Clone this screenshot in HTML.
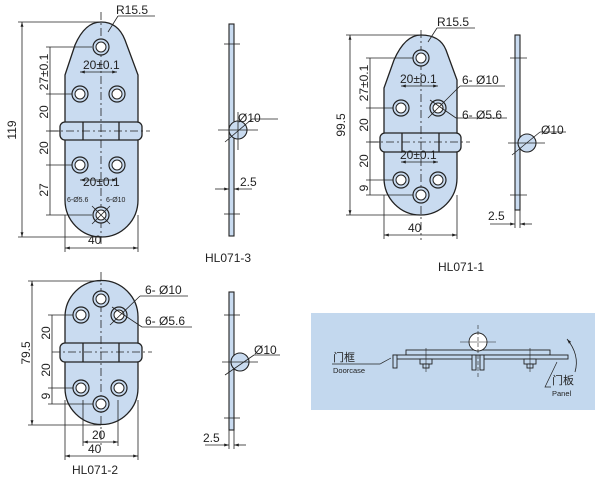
<!DOCTYPE html>
<html><head><meta charset="utf-8"><style>
html,body{margin:0;padding:0;background:#fff;}
svg{display:block;}
text{font-family:"Liberation Sans","Noto Sans CJK SC",sans-serif;fill:#222;}
</style></head><body>
<svg width="600" height="481" viewBox="0 0 600 481" xmlns="http://www.w3.org/2000/svg">
<defs>
<marker id="a" viewBox="0 0 10 10" refX="10" refY="5" markerWidth="6" markerHeight="6" orient="auto-start-reverse"><path d="M0,2 L10,5 L0,8z" fill="#222"/></marker>
<g id="hole"><circle r="8" fill="#c9dbf0" stroke="#222" stroke-width="1.2"/><circle r="5" fill="#fff" stroke="#222" stroke-width="1"/></g>
</defs>
<g stroke="#222" fill="none" stroke-width="0.8">

<!-- ===== HL071-3 ===== -->
<path d="M75,45 Q85,22 101,22 Q118,22 125,40 L138,75 L138,200 A36.5,37 0 0 1 65,200 L65,75 Z" fill="#c9dbf0" stroke-width="1.3"/>
<rect x="60" y="122" width="82" height="18" rx="5" fill="#c9dbf0" stroke-width="1.3"/>
<line x1="83" y1="122" x2="83" y2="140" stroke-width="1.3"/><line x1="119" y1="122" x2="119" y2="140" stroke-width="1.3"/>
<line x1="101" y1="12" x2="101" y2="245" stroke-dasharray="8,3,2,3"/>
<line x1="50" y1="131" x2="150" y2="131" stroke-dasharray="8,3,2,3"/>
<use href="#hole" x="101" y="47"/><use href="#hole" x="80" y="94"/><use href="#hole" x="117" y="94"/>
<use href="#hole" x="80" y="165"/><use href="#hole" x="117" y="165"/><use href="#hole" x="101" y="215"/>
<line x1="22" y1="22" x2="22" y2="237" marker-start="url(#a)" marker-end="url(#a)"/>
<line x1="18" y1="22" x2="101" y2="22"/><line x1="18" y1="237" x2="101" y2="237"/>
<line x1="50" y1="47" x2="50" y2="215"/>
<line x1="46" y1="47" x2="92" y2="47"/><line x1="46" y1="94" x2="72" y2="94"/><line x1="46" y1="131" x2="60" y2="131"/><line x1="46" y1="165" x2="72" y2="165"/><line x1="46" y1="215" x2="92" y2="215"/>
<line x1="80" y1="72" x2="117" y2="72" marker-start="url(#a)" marker-end="url(#a)"/>
<line x1="80" y1="180" x2="117" y2="180" marker-start="url(#a)" marker-end="url(#a)"/>
<line x1="65" y1="248" x2="138" y2="248" marker-start="url(#a)" marker-end="url(#a)"/>
<line x1="65" y1="215" x2="65" y2="252"/><line x1="138" y1="215" x2="138" y2="252"/>
<line x1="108" y1="32" x2="118" y2="16"/><line x1="118" y1="16" x2="155" y2="16"/>
<line x1="92" y1="224" x2="110" y2="206"/><line x1="92" y1="206" x2="110" y2="224"/>
<!-- side 3 -->
<rect x="229" y="24" width="5" height="212" fill="#c9dbf0" stroke-width="1.1"/>
<circle cx="238" cy="130" r="9" fill="#c9dbf0" stroke-width="1.1"/>
<line x1="218" y1="130" x2="258" y2="130"/><line x1="238" y1="112" x2="238" y2="150"/>
<line x1="224" y1="44" x2="240" y2="44"/><line x1="224" y1="214" x2="240" y2="214"/>
<line x1="225" y1="142" x2="252" y2="119"/><line x1="252" y1="119" x2="278" y2="119"/>
<line x1="215" y1="189" x2="229" y2="189" marker-end="url(#a)"/><line x1="252" y1="189" x2="234" y2="189" marker-end="url(#a)"/>

<!-- ===== HL071-1 ===== -->
<path d="M394,60 Q405,35 421,35 Q440,35 446,50 L457,80 L457,178 A36.5,37 0 0 1 384,178 L384,88 Z" fill="#c9dbf0" stroke-width="1.3"/>
<rect x="380" y="133" width="81" height="19" rx="5" fill="#c9dbf0" stroke-width="1.3"/>
<line x1="402" y1="133" x2="402" y2="152" stroke-width="1.3"/><line x1="439" y1="133" x2="439" y2="152" stroke-width="1.3"/>
<line x1="421" y1="30" x2="421" y2="240" stroke-dasharray="8,3,2,3"/>
<line x1="370" y1="142" x2="470" y2="142" stroke-dasharray="8,3,2,3"/>
<use href="#hole" x="421" y="58"/><use href="#hole" x="401" y="108"/><use href="#hole" x="438" y="108"/>
<use href="#hole" x="401" y="180"/><use href="#hole" x="438" y="180"/><use href="#hole" x="421" y="195"/>
<line x1="350" y1="35" x2="350" y2="215" marker-start="url(#a)" marker-end="url(#a)"/>
<line x1="346" y1="35" x2="421" y2="35"/><line x1="346" y1="215" x2="421" y2="215"/>
<line x1="370" y1="58" x2="370" y2="195"/>
<line x1="366" y1="58" x2="413" y2="58"/><line x1="366" y1="108" x2="393" y2="108"/><line x1="366" y1="142" x2="380" y2="142"/><line x1="366" y1="180" x2="393" y2="180"/><line x1="366" y1="195" x2="413" y2="195"/>
<line x1="401" y1="86" x2="438" y2="86" marker-start="url(#a)" marker-end="url(#a)"/>
<line x1="401" y1="162" x2="438" y2="162" marker-start="url(#a)" marker-end="url(#a)"/>
<line x1="384" y1="235" x2="457" y2="235" marker-start="url(#a)" marker-end="url(#a)"/>
<line x1="384" y1="195" x2="384" y2="239"/><line x1="457" y1="195" x2="457" y2="239"/>
<line x1="428" y1="42" x2="437" y2="28"/><line x1="437" y1="28" x2="475" y2="28"/>
<line x1="428" y1="118" x2="460" y2="86"/><line x1="460" y1="86" x2="505" y2="86"/>
<line x1="430" y1="100" x2="456" y2="118"/><line x1="456" y1="118" x2="507" y2="118"/>
<!-- side 1 -->
<rect x="515" y="35" width="5" height="175" fill="#c9dbf0" stroke-width="1.1"/>
<circle cx="527" cy="143" r="9" fill="#c9dbf0" stroke-width="1.1"/>
<line x1="508" y1="143" x2="545" y2="143"/>
<line x1="510" y1="58" x2="527" y2="58"/><line x1="510" y1="195" x2="527" y2="195"/>
<line x1="512" y1="155" x2="540" y2="132"/><line x1="540" y1="132" x2="566" y2="132"/>
<line x1="490" y1="224" x2="515" y2="224" marker-end="url(#a)"/><line x1="532" y1="224" x2="520" y2="224" marker-end="url(#a)"/>
<line x1="515" y1="210" x2="515" y2="228"/><line x1="520" y1="210" x2="520" y2="228"/>

<!-- ===== HL071-2 ===== -->
<path d="M65,317 A36.5,36.5 0 0 1 138,317 L138,388 A36.5,36.5 0 0 1 65,388 Z" fill="#c9dbf0" stroke-width="1.3"/>
<rect x="60" y="343" width="82" height="19" rx="5" fill="#c9dbf0" stroke-width="1.3"/>
<line x1="83" y1="343" x2="83" y2="362" stroke-width="1.3"/><line x1="119" y1="343" x2="119" y2="362" stroke-width="1.3"/>
<line x1="101" y1="272" x2="101" y2="446" stroke-dasharray="8,3,2,3"/>
<line x1="52" y1="352" x2="152" y2="352" stroke-dasharray="8,3,2,3"/>
<use href="#hole" x="101" y="299"/><use href="#hole" x="81" y="315"/><use href="#hole" x="119" y="315"/>
<use href="#hole" x="81" y="388"/><use href="#hole" x="119" y="388"/><use href="#hole" x="101" y="404"/>
<line x1="32" y1="281" x2="32" y2="425" marker-start="url(#a)" marker-end="url(#a)"/>
<line x1="28" y1="281" x2="101" y2="281"/><line x1="28" y1="425" x2="101" y2="425"/>
<line x1="52" y1="315" x2="52" y2="404"/>
<line x1="48" y1="315" x2="73" y2="315"/><line x1="48" y1="388" x2="73" y2="388"/><line x1="48" y1="404" x2="93" y2="404"/>
<line x1="83" y1="442" x2="118" y2="442" marker-start="url(#a)" marker-end="url(#a)"/>
<line x1="83" y1="400" x2="83" y2="446"/><line x1="118" y1="400" x2="118" y2="446"/>
<line x1="65" y1="456" x2="138" y2="456" marker-start="url(#a)" marker-end="url(#a)"/>
<line x1="65" y1="400" x2="65" y2="460"/><line x1="138" y1="400" x2="138" y2="460"/>
<line x1="110" y1="325" x2="140" y2="296"/><line x1="140" y1="296" x2="188" y2="296"/>
<line x1="112" y1="307" x2="142" y2="327"/><line x1="142" y1="327" x2="192" y2="327"/>
<!-- side 2 -->
<rect x="229" y="292" width="5" height="138" fill="#c9dbf0" stroke-width="1.1"/>
<circle cx="240" cy="362" r="9" fill="#c9dbf0" stroke-width="1.1"/>
<line x1="222" y1="362" x2="258" y2="362"/>
<line x1="224" y1="315" x2="240" y2="315"/><line x1="224" y1="418" x2="240" y2="418"/>
<line x1="225" y1="375" x2="254" y2="355"/><line x1="254" y1="355" x2="280" y2="355"/>
<line x1="205" y1="445" x2="229" y2="445" marker-end="url(#a)"/><line x1="246" y1="445" x2="234" y2="445" marker-end="url(#a)"/>
<line x1="229" y1="430" x2="229" y2="449"/><line x1="234" y1="430" x2="234" y2="449"/>
</g>

<!-- panel box -->
<rect x="311" y="313" width="284" height="97" fill="#c3d8ee"/>
<g stroke="#222" fill="none" stroke-width="0.9">
<rect x="406" y="350" width="144" height="5" fill="#c3d8ee"/>
<rect x="393" y="355" width="80" height="4" fill="#c3d8ee"/>
<rect x="483" y="355" width="85" height="4" fill="#c3d8ee"/>
<rect x="393" y="355" width="4" height="13" fill="#c3d8ee"/>
<rect x="472" y="355" width="4" height="15" fill="#c3d8ee"/><rect x="480" y="355" width="4" height="15" fill="#c3d8ee"/>
<rect x="420" y="359" width="12" height="5" fill="#c3d8ee"/><rect x="423" y="364" width="6" height="4" fill="#c3d8ee"/>
<rect x="524" y="359" width="12" height="5" fill="#c3d8ee"/><rect x="527" y="364" width="6" height="4" fill="#c3d8ee"/>
<circle cx="478" cy="342" r="9" fill="#fff"/>
<line x1="460" y1="342" x2="496" y2="342" stroke-width="0.6"/><line x1="478" y1="325" x2="478" y2="378" stroke-width="0.6" stroke-dasharray="4,2"/>
<line x1="426" y1="348" x2="426" y2="372" stroke-width="0.6"/><line x1="530" y1="348" x2="530" y2="372" stroke-width="0.6"/>
<path d="M332,364 L380,364 L391,358" stroke-width="0.7"/>
<path d="M551,387 L545,387 L557,362" stroke-width="0.7"/>
<path d="M567,339 Q580,355 575,372" stroke-width="0.8" marker-start="url(#a)"/>
</g>
<g font-size="12">
<text x="116" y="14">R15.5</text>
<text x="83" y="69">20±0.1</text>
<text x="83" y="186">20±0.1</text>
<text x="88" y="244">40</text>
<text x="238" y="122">Ø10</text>
<text x="240" y="186">2.5</text>
<text x="205" y="262">HL071-3</text>
<text x="437" y="26">R15.5</text>
<text x="400" y="83">20±0.1</text>
<text x="400" y="159">20±0.1</text>
<text x="408" y="232">40</text>
<text x="462" y="84">6- Ø10</text>
<text x="462" y="119">6- Ø5.6</text>
<text x="541" y="134">Ø10</text>
<text x="488" y="220">2.5</text>
<text x="438" y="271">HL071-1</text>
<text x="145" y="294">6- Ø10</text>
<text x="145" y="325">6- Ø5.6</text>
<text x="254" y="354">Ø10</text>
<text x="92" y="439">20</text>
<text x="88" y="453">40</text>
<text x="203" y="442">2.5</text>
<text x="72" y="474">HL071-2</text>
</g>
<g font-size="7">
<text x="67" y="202">6-Ø5.6</text>
<text x="106" y="202">6-Ø10</text>
</g>
<g font-size="12">
<text transform="translate(16,130) rotate(-90)" text-anchor="middle">119</text>
<text transform="translate(48,72) rotate(-90)" text-anchor="middle">27±0.1</text>
<text transform="translate(48,112) rotate(-90)" text-anchor="middle">20</text>
<text transform="translate(48,148) rotate(-90)" text-anchor="middle">20</text>
<text transform="translate(48,190) rotate(-90)" text-anchor="middle">27</text>
<text transform="translate(345,125) rotate(-90)" text-anchor="middle">99.5</text>
<text transform="translate(368,83) rotate(-90)" text-anchor="middle">27±0.1</text>
<text transform="translate(368,125) rotate(-90)" text-anchor="middle">20</text>
<text transform="translate(368,161) rotate(-90)" text-anchor="middle">20</text>
<text transform="translate(368,188) rotate(-90)" text-anchor="middle">9</text>
<text transform="translate(30,353) rotate(-90)" text-anchor="middle">79.5</text>
<text transform="translate(50,333) rotate(-90)" text-anchor="middle">20</text>
<text transform="translate(50,370) rotate(-90)" text-anchor="middle">20</text>
<text transform="translate(50,396) rotate(-90)" text-anchor="middle">9</text>
</g>
<text x="333" y="361" font-size="11">门框</text>
<text x="333" y="373" font-size="7.5">Doorcase</text>
<text x="552" y="384" font-size="11">门板</text>
<text x="552" y="396" font-size="7.5">Panel</text>
</svg>
</body></html>
